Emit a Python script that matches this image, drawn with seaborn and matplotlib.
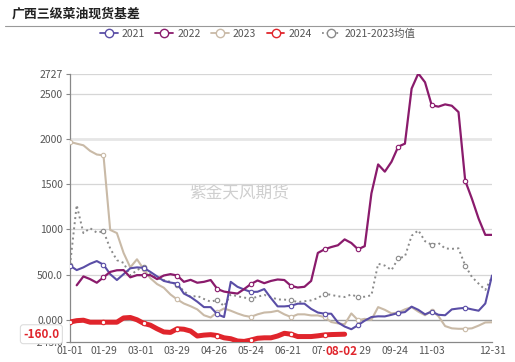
import numpy as np
import pandas as pd
import matplotlib
matplotlib.use("Agg")
import matplotlib.pyplot as plt
from matplotlib.lines import Line2D
import seaborn as sns

# ---------------- data ----------------
title = "广西三级菜油现货基差"
watermark = "紫金天风期货"
series_names = ["2021", "2022", "2023", "2024", "2021-2023均值"]
tick_pos = [0, 5, 10.5, 16, 21.5, 27, 32.5, 38, 43, 48.5, 54, 63]
tick_labels = ["01-01", "01-29", "03-01", "03-29", "04-26", "05-24", "06-21",
               "07-19", "08-29", "09-24", "11-03", "12-31"]
ytick_vals = [-243, 0, 500, 1000, 1500, 2000, 2500, 2727]
ytick_labels = ["-243.0", "0.000", "500.0", "1000", "1500", "2000", "2500", "2727"]
last_date = "08-02"

v2021 = [600, 550, 580, 620, 650, 610, 505, 440, 505, 570, 580, 575, 530, 480, 430, 412,
         400, 290, 252, 200, 140, 140, 60, 30, 420, 365, 335, 308, 310, 340, 240, 148,
         148, 155, 178, 178, 120, 80, 67, 67, -30, -75, -105, -60, -10, 30, 38, 37,
         55, 75, 85, 145, 110, 60, 90, 55, 50, 115, 125, 132, 115, 100, 180, 490]
v2022 = [np.nan, 382, 480, 450, 410, 470, 530, 548, 550, 470, 494, 494, 494, 450, 490, 505,
         490, 420, 442, 410, 420, 440, 340, 312, 300, 290, 340, 395, 435, 405, 430, 446,
         440, 375, 357, 365, 430, 740, 780, 805, 825, 890, 850, 780, 815, 1400, 1720, 1640,
         1750, 1917, 1950, 2560, 2727, 2630, 2375, 2360, 2385, 2370, 2300, 1540, 1340, 1120, 940, 940]
v2023 = [1970, 1950, 1932, 1870, 1830, 1820, 995, 960, 740, 580, 670, 560, 460, 395, 355, 280,
         225, 180, 150, 115, 50, 25, 85, 125, 100, 70, 45, 32, 60, 80, 85, 100,
         60, 30, 60, 60, 48, 48, 30, -25, -40, -50, 70, -5, 10, 0, 140, 110,
         70, 80, 115, 140, 90, 50, 100, 40, -70, -95, -100, -100, -95, -65, -30, -28]
v2024 = [-25, -10, -5, -27, -27, -27, -27, -27, 20, 25, 0, -40, -60, -100, -135, -140,
         -100, -105, -125, -180, -170, -165, -175, -200, -210, -235, -240, -225, -205, -200, -200, -180,
         -150, -160, -186, -186, -186, -178, -168, -164, -162, -160]
vavg = [605, 1270, 960, 1014, 965, 980, 790, 660, 630, 490, 550, 587, 500, 460, 440, 420,
        385, 320, 252, 265, 230, 200, 220, 150, 280, 260, 245, 235, 255, 275, 250, 225,
        223, 215, 196, 205, 215, 240, 290, 275, 260, 252, 280, 250, 255, 271, 620, 600,
        550, 680, 700, 930, 990, 870, 830, 850, 790, 785, 791, 600, 474, 400, 330, 474]

colors = {"2021": "#5a4ea6", "2022": "#8a1b6c", "2023": "#c9baa7",
          "2024": "#e0252c", "2021-2023均值": "#8a8a8a"}

# ---------------- figure ----------------
sns.set_theme(style="white")
plt.rcParams['font.family'] = ['Noto Sans CJK SC', 'DejaVu Sans']

fig = plt.figure(figsize=(5.15, 3.62), dpi=100)
ax = fig.add_axes([70/515, 1-341.7/362, 422/515, (341.7-73.5)/362])

marker_idx = [0, 5, 11, 16, 22, 27, 33, 38, 43, 49, 54, 59]

def draw(vals, name, lw, ls="-"):
    x = np.arange(len(vals))
    df = pd.DataFrame({"x": x, "y": vals}).dropna()
    keep = [i for i, xv in enumerate(df["x"]) if xv in marker_idx]
    sns.lineplot(data=df, x="x", y="y", ax=ax, color=colors[name], lw=lw,
                 linestyle=ls, marker="o", markevery=keep, markersize=3.2,
                 markerfacecolor="white", markeredgecolor=colors[name],
                 markeredgewidth=0.8, zorder=3, legend=False)

draw(v2023, "2023", 1.5)
draw(vavg, "2021-2023均值", 1.4, ":")
draw(v2021, "2021", 1.5)
draw(v2022, "2022", 1.6)
draw(v2024, "2024", 3.6)

ax.set_xlim(0, 63)
ax.set_ylim(-243, 2727)
ax.set_xlabel("")
ax.set_ylabel("")

# grid lines
for v in [500, 1000, 1500, 2500, 2727]:
    ax.axhline(v, color="#d6d6d6", lw=0.9, zorder=1)
ax.axhline(2000, color="#e6e6e6", lw=2.0, zorder=1)
ax.axhline(0, color="#9a9a9a", lw=1.0, zorder=2)

ax.set_yticks(ytick_vals)
ax.set_yticklabels(ytick_labels)
ax.set_xticks(tick_pos)
ax.set_xticklabels(tick_labels)
ax.tick_params(axis="y", length=3, width=0.8, color="#888888", labelsize=7.5,
               labelcolor="#555555", pad=2, left=True)
ax.tick_params(axis="x", length=0, labelsize=7.5, labelcolor="#555555", pad=3)
for s in ["top", "right"]:
    ax.spines[s].set_visible(False)
ax.spines["left"].set_color("#888888")
ax.spines["bottom"].set_color("#888888")
ax.spines["left"].set_linewidth(0.9)
ax.spines["bottom"].set_linewidth(0.9)

# watermark
ax.text(0.40, 0.555, watermark, transform=ax.transAxes, fontsize=12,
        color="#cfcfcf", ha="center", va="center", zorder=0)

# last value label on y-axis
last_val = v2024[-1]
ax.text(-0.025, last_val, f"{last_val:.1f}", transform=ax.get_yaxis_transform(),
        ha="right", va="center", fontsize=8.5, fontweight="bold", color="#e0252c",
        bbox=dict(boxstyle="round,pad=0.25", fc="white", ec="#dddddd", lw=0.8),
        zorder=10, clip_on=False)
# last date label on x-axis
ax.annotate(last_date, xy=(len(v2024) - 1 - 0.4, 0), xycoords=ax.get_xaxis_transform(),
            xytext=(0, -2.5), textcoords="offset points",
            ha="center", va="top", fontsize=8.5, fontweight="bold", color="#e0252c",
            bbox=dict(boxstyle="square,pad=0.1", fc="white", ec="none"),
            zorder=10, annotation_clip=False)

# title and separator
fig.text(12/515, 1-14/362, title, fontsize=9.3, fontweight="bold", color="#222222",
         ha="left", va="center")
fig.add_artist(Line2D([5/515, 1.0], [1-25.5/362, 1-25.5/362], color="#999999", lw=0.8))

# legend
handles = [Line2D([0], [0], color=colors[n], lw=1.3,
                  linestyle=":" if n == "2021-2023均值" else "-",
                  marker="o", markersize=6, markerfacecolor="white",
                  markeredgecolor=colors[n], markeredgewidth=1.0)
           for n in series_names]
fig.legend(handles, series_names, loc="center", bbox_to_anchor=(0.5, 1-34/362),
           ncol=5, frameon=False, fontsize=7.5, handlelength=1.7, handletextpad=0.4,
           columnspacing=1.0, labelcolor="#555555")

fig.savefig("out.png", dpi=100)
